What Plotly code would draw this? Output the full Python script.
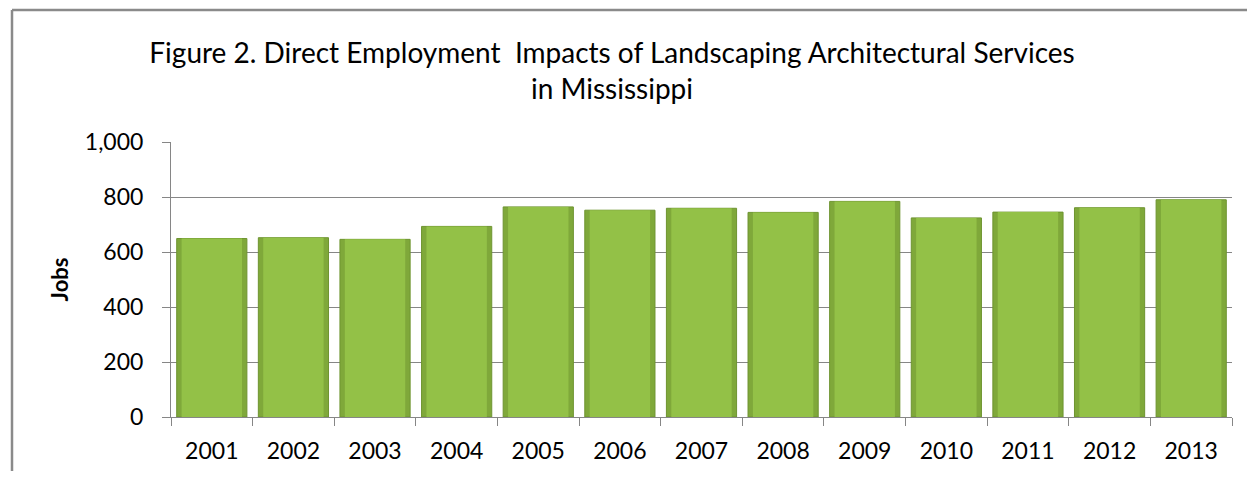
import plotly.graph_objects as go

years = ["2001", "2002", "2003", "2004", "2005", "2006", "2007",
         "2008", "2009", "2010", "2011", "2012", "2013"]
jobs = [649, 652, 646, 693, 764, 752, 759, 744, 784, 724, 745, 761, 790]
y_ticks = [0, 200, 400, 600, 800, 1000]

OFF = 8  # page offset in the screenshot
W, H = 1255 - 2 * OFF, 479 - 2 * OFF
ML, MT = 171 - OFF, 142 - OFF
MR = OFF + W - 1232
MB = OFF + H - 417
PW, PH = W - ML - MR, H - MT - MB
FONT = "Lato"


def px_x(p):
    return (p - OFF - ML) / PW


def px_y(p):
    return (H - MB - (p - OFF)) / PH


fig = go.Figure()
# outer (darker) bevel bar
fig.add_trace(go.Bar(
    x=years, y=jobs, width=0.86,
    marker=dict(color="#7FA83A", line=dict(color="#6E9430", width=1)),
    hoverinfo="skip", showlegend=False,
))
# inner (lighter) face
fig.add_trace(go.Bar(
    x=years, y=jobs, width=0.74,
    marker=dict(color="#93C147", line=dict(width=0)),
    showlegend=False,
))

fig.update_layout(
    width=W, height=H,
    margin=dict(l=ML, r=MR, t=MT, b=MB),
    paper_bgcolor="white", plot_bgcolor="white",
    barmode="overlay",
    font=dict(family=FONT, color="black"),
    title=dict(
        text="Figure 2. Direct Employment  Impacts of Landscaping Architectural Services<br>in Mississippi",
        x=(612 - OFF) / W, xref="container", xanchor="center",
        y=1 - (63 - OFF) / H, yref="container", yanchor="middle",
        font=dict(family=FONT, size=28, color="black"),
    ),
    xaxis=dict(
        type="category", automargin=False,
        showline=True, linecolor="#868686", linewidth=1,
        ticks="outside", tickson="boundaries", ticklen=8, tickcolor="#868686",
        tickfont=dict(size=23), ticklabelstandoff=13,
        showgrid=False,
    ),
    yaxis=dict(
        range=[0, 1000], tickvals=y_ticks, tickformat=",", automargin=False,
        showline=True, linecolor="#868686", linewidth=1,
        ticks="outside", ticklen=8, tickcolor="#868686",
        showgrid=True, gridcolor="#868686", gridwidth=1,
        tickfont=dict(size=23), ticklabelstandoff=14,
        title=dict(text="<b>Jobs</b>", font=dict(size=22), standoff=10),
        zeroline=False,
    ),
    shapes=[
        dict(type="line", xref="paper", yref="paper",
             x0=px_x(12), x1=px_x(12),
             y0=px_y(10), y1=px_y(500),
             line=dict(color="#8A8A8A", width=2.5)),
        dict(type="line", xref="paper", yref="paper",
             x0=px_x(12), x1=px_x(1300),
             y0=px_y(10), y1=px_y(10),
             line=dict(color="#8A8A8A", width=2.5)),
    ],
)

fig.write_html("out.html")
